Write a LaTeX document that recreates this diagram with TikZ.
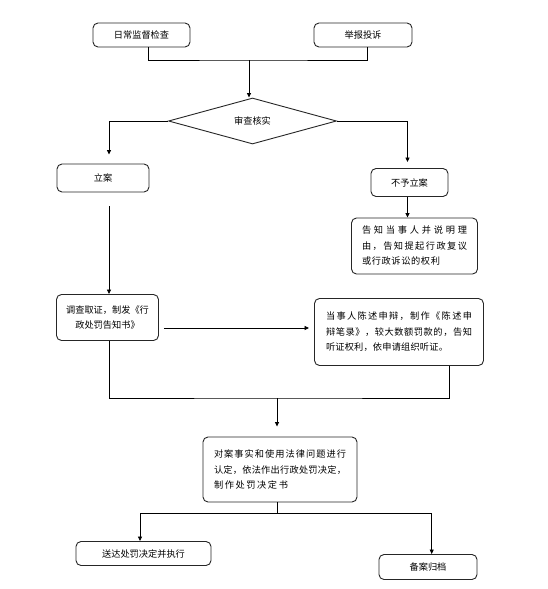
\documentclass[tikz,border=0pt]{standalone}
\usepackage{fontspec}
\setmainfont{Noto Sans CJK SC}
\usetikzlibrary{shapes.geometric,arrows.meta}
\newcommand\fz{\fontsize{9.2}{15.5}\selectfont}
\newcommand\jl[2]{\makebox[#1][s]{#2}}
\begin{document}
\begin{tikzpicture}[x=1pt,y=-1pt,
  box/.style={draw=black!85,line width=0.9pt,rounded corners=5pt,inner sep=0pt,font=\fz,text=black},
  ln/.style={line width=0.8pt,draw=black},
  arr/.style={ln,-{Triangle[length=4.5pt,width=4pt]}}]
\useasboundingbox[fill=white] (0,0) rectangle (547,589);

\node[box,minimum width=97pt,minimum height=24pt] (b1) at (141.5,35) {日常监督检查};
\node[box,minimum width=98pt,minimum height=24pt] (b2) at (363,35) {举报投诉};
\node[diamond,draw=black!85,line width=0.9pt,minimum width=168pt,minimum height=46pt,inner sep=0pt,font=\fz] (dia) at (252.5,121) {审查核实};
\node[box,minimum width=92pt,minimum height=28pt] (la) at (103,178) {立案};
\node[box,minimum width=77pt,minimum height=28pt] (by) at (409.5,182.5) {不予立案};
\node[box,minimum width=126pt,minimum height=56pt,align=left] (gz) at (414.5,246)
  {\jl{105pt}{告\hfil 知\hfil 当\hfil 事\hfil 人\hfil 并\hfil 说\hfil 明\hfil 理}\\
   \jl{105pt}{由\hfil ，\hfil 告\hfil 知\hfil 提\hfil 起\hfil 行\hfil 政\hfil 复\hfil 议}\\
   \jl{78pt}{或\hfil 行\hfil 政\hfil 诉\hfil 讼\hfil 的\hfil 权\hfil 利}};
\node[box,minimum width=102pt,minimum height=46pt,align=center] (dc) at (107.5,317.5)
  {调查取证，制发《行\\政处罚告知书》};
\node[box,minimum width=169pt,minimum height=67pt,align=left] (dsr) at (399,332)
  {\jl{146pt}{当\hfil 事\hfil 人\hfil 陈\hfil 述\hfil 申\hfil 辩\hfil ，\hfil 制\hfil 作\hfil 《\hfil 陈\hfil 述\hfil 申}\\
   \jl{146pt}{辩\hfil 笔\hfil 录\hfil 》\hfil ，\hfil 较\hfil 大\hfil 数\hfil 额\hfil 罚\hfil 款\hfil 的\hfil ，\hfil 告\hfil 知}\\
   \jl{122pt}{听\hfil 证\hfil 权\hfil 利\hfil ，\hfil 依\hfil 申\hfil 请\hfil 组\hfil 织\hfil 听\hfil 证\hfil 。}};
\node[box,minimum width=154pt,minimum height=65pt,align=left] (jd) at (280,469.5)
  {\jl{132pt}{对\hfil 案\hfil 事\hfil 实\hfil 和\hfil 使\hfil 用\hfil 法\hfil 律\hfil 问\hfil 题\hfil 进\hfil 行}\\
   \jl{132pt}{认\hfil 定\hfil ，\hfil 依\hfil 法\hfil 作\hfil 出\hfil 行\hfil 政\hfil 处\hfil 罚\hfil 决\hfil 定\hfil ，}\\
   \jl{74pt}{制\hfil 作\hfil 处\hfil 罚\hfil 决\hfil 定\hfil 书}};
\node[box,minimum width=135pt,minimum height=24pt] (sd) at (143.5,553.5) {送达处罚决定并执行};
\node[box,minimum width=98pt,minimum height=25pt] (ba) at (428,567) {备案归档};

\coordinate (j1) at (249,60);
\coordinate (m) at (0,328);
\coordinate (j2) at (277,398);
\coordinate (xr) at (449,0);
\coordinate (j3) at (277,513);
\coordinate (xl) at (140,0);
\coordinate (xb) at (431.7,0);

\draw[ln] ([xshift=6.5pt]b1.south) |- (j1) -| ([xshift=4pt]b2.south);
\draw[arr] (j1) -- (j1 |- dia.north);
\draw[arr,shorten >=9pt] (dia.west) -| ([xshift=6pt]la.north);
\draw[arr,shorten >=6pt] (dia.east) -| ([xshift=-2pt]by.north);
\draw[arr] ([xshift=-2pt]by.south) -- ([xshift=-2pt]by.south |- gz.north);
\draw[arr,shorten <=14pt] ([xshift=6pt]la.south) -- ([xshift=6pt]la.south |- dc.north);
\draw[arr,shorten <=5pt,shorten >=5pt] (dc.east |- m) -- (dsr.west |- m);
\draw[ln] ([xshift=1.5pt]dc.south) |- (j2) -| (dsr.south -| xr);
\draw[arr,shorten >=10pt] (j2) -- (j2 |- jd.north);
\draw[ln] (j3 |- jd.south) -- (j3);
\draw[arr] (j3) -| (sd.north -| xl);
\draw[arr] (j3) -| (ba.north -| xb);
\end{tikzpicture}
\end{document}
